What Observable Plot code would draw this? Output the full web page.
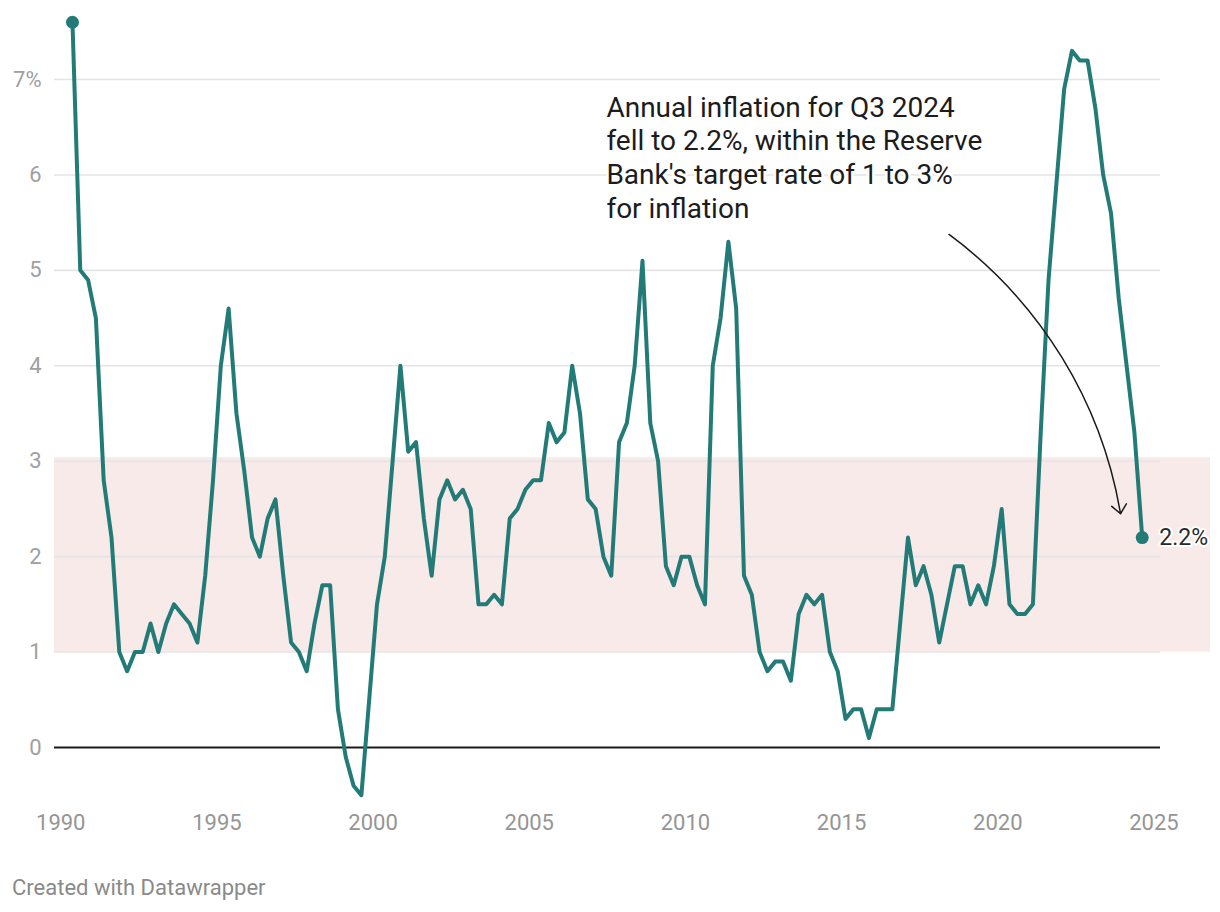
<!DOCTYPE html>
<html>
<head>
<meta charset="utf-8">
<script src="https://cdn.jsdelivr.net/npm/d3@7"></script>
<script src="https://cdn.jsdelivr.net/npm/@observablehq/plot@0.6"></script>
<style>
  body { margin: 0; background: #fff; font-family: Roboto, sans-serif; }
  #chart svg { display: block; }
  #caption { font-family: Roboto, sans-serif; font-size: 22px; line-height: 24px; color: #8a8a8a; padding-left: 12px; margin-top: 16px; }
</style>
</head>
<body>
<div id="chart"></div>
<div id="caption">Created with Datawrapper</div>
<script>
// Annual CPI inflation (%), quarterly, from 1990 Q2 to 2024 Q3
const startYear = 1990;
const startQuarter = 2;
const inflation = [
  7.6, 5.0, 4.9,            // 1990 Q2-Q4
  4.5, 2.8, 2.2, 1.0,       // 1991
  0.8, 1.0, 1.0, 1.3,       // 1992
  1.0, 1.3, 1.5, 1.4,       // 1993
  1.3, 1.1, 1.8, 2.8,       // 1994
  4.0, 4.6, 3.5, 2.9,       // 1995
  2.2, 2.0, 2.4, 2.6,       // 1996
  1.8, 1.1, 1.0, 0.8,       // 1997
  1.3, 1.7, 1.7, 0.4,       // 1998
  -0.1, -0.4, -0.5, 0.5,    // 1999
  1.5, 2.0, 3.0, 4.0,       // 2000
  3.1, 3.2, 2.4, 1.8,       // 2001
  2.6, 2.8, 2.6, 2.7,       // 2002
  2.5, 1.5, 1.5, 1.6,       // 2003
  1.5, 2.4, 2.5, 2.7,       // 2004
  2.8, 2.8, 3.4, 3.2,       // 2005
  3.3, 4.0, 3.5, 2.6,       // 2006
  2.5, 2.0, 1.8, 3.2,       // 2007
  3.4, 4.0, 5.1, 3.4,       // 2008
  3.0, 1.9, 1.7, 2.0,       // 2009
  2.0, 1.7, 1.5, 4.0,       // 2010
  4.5, 5.3, 4.6, 1.8,       // 2011
  1.6, 1.0, 0.8, 0.9,       // 2012
  0.9, 0.7, 1.4, 1.6,       // 2013
  1.5, 1.6, 1.0, 0.8,       // 2014
  0.3, 0.4, 0.4, 0.1,       // 2015
  0.4, 0.4, 0.4, 1.3,       // 2016
  2.2, 1.7, 1.9, 1.6,       // 2017
  1.1, 1.5, 1.9, 1.9,       // 2018
  1.5, 1.7, 1.5, 1.9,       // 2019
  2.5, 1.5, 1.4, 1.4,       // 2020
  1.5, 3.3, 4.9, 5.9,       // 2021
  6.9, 7.3, 7.2, 7.2,       // 2022
  6.7, 6.0, 5.6, 4.7,       // 2023
  4.0, 3.3, 2.2             // 2024 Q1-Q3
];

const xTicks = [1990, 1995, 2000, 2005, 2010, 2015, 2020, 2025];
const yTicks = [0, 1, 2, 3, 4, 5, 6, 7];
const targetBand = [{low: 1, high: 3}];
const annotationText = "Annual inflation for Q3 2024\nfell to 2.2%, within the Reserve\nBank's target rate of 1 to 3%\nfor inflation";
const annotation = [{x: 2007.47, y: 6.86, text: annotationText}];
const arrowData = [{x1: 2018.44, y1: 5.376, x2: 2023.93, y2: 2.449}];

// quarters placed at mid-quarter
const data = inflation.map((v, i) => {
  const k = (startQuarter - 1) + i;
  const year = startYear + Math.floor(k / 4);
  const q = (k % 4) + 1;
  return {t: year + (q - 1) * 0.25 + 0.125, v, label: `${year} Q${q}`};
});
const ends = [data[0], data[data.length - 1]];
const last = [data[data.length - 1]];

const teal = "#237b78";

const chart = Plot.plot({
  width: 1220,
  height: 860,
  marginLeft: 54,
  marginRight: 60,
  marginTop: 0,
  marginBottom: 60,
  x: {domain: [1989.8, 2025.21]},
  y: {domain: [0, 7], range: [747, 79]},
  style: {fontFamily: "Roboto", background: "white", overflow: "visible"},
  marks: [
    Plot.rect(targetBand, {y1: "low", y2: "high", fill: "#f9eaea", insetTop: -3.5, insetRight: -50}),
    Plot.ruleY(yTicks.filter(d => d !== 0), {stroke: "#e4e4e4", strokeWidth: 1.6}),
    Plot.ruleY([0], {stroke: "#1a1a1a", strokeWidth: 2}),
    Plot.axisY({ticks: yTicks, tickSize: 0, tickPadding: 13, fontSize: 22, fill: "#a0a0a0", label: null,
      tickFormat: d => d === 7 ? "7%" : String(d)}),
    Plot.axisX({ticks: xTicks, tickSize: 0, tickPadding: 14, fontSize: 22, fill: "#959595", label: null,
      tickFormat: d => String(d)}),
    Plot.line(data, {x: "t", y: "v", stroke: teal, strokeWidth: 4, strokeLinejoin: "round"}),
    Plot.dot(ends, {x: "t", y: "v", r: 6.5, fill: teal}),
    Plot.arrow(arrowData, {x1: "x1", y1: "y1", x2: "x2", y2: "y2", bend: 22, stroke: "#1a1a1a",
      strokeWidth: 1.5, headLength: 11.5, headAngle: 80}),
    Plot.text(annotation, {x: "x", y: "y", text: "text", textAnchor: "start", lineAnchor: "top",
      fontSize: 28, lineHeight: 1.2, fill: "#1c1c1c", stroke: "white", strokeWidth: 5}),
    Plot.text(last, {x: "t", y: "v", text: d => d.v + "%", dx: 17, textAnchor: "start",
      fontSize: 23, fill: "#2a2a2a", stroke: "white", strokeWidth: 4})
  ]
});
document.getElementById("chart").appendChild(chart);
</script>
</body>
</html>
